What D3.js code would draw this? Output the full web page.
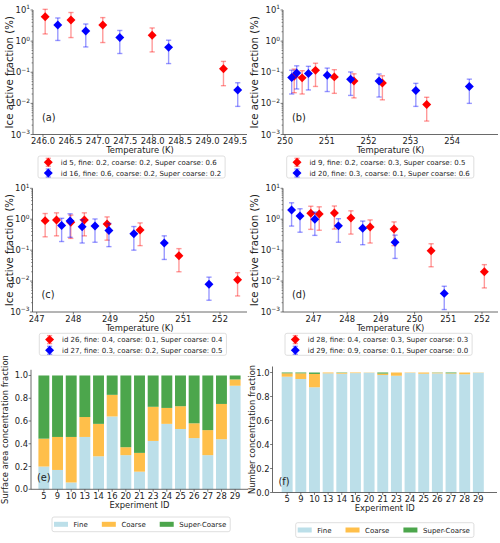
<!DOCTYPE html>
<html><head><meta charset="utf-8">
<script src="https://cdn.jsdelivr.net/npm/d3@7"></script>
<style>body{margin:0;background:#fff} text{font-family:"DejaVu Sans",sans-serif;fill:#222}</style>
</head><body><svg id="c" width="500" height="543"></svg>
<script>
// ---------------- DATA ----------------
// Panel (a)
const aRedLabel = "id 5, fine: 0.2, coarse: 0.2, Super coarse: 0.6";
const aBlueLabel = "id 16, fine: 0.6, coarse: 0.2, Super coarse: 0.2";
const aRedT = [246.04, 246.51, 247.09, 247.99, 249.29];
const aRedV = [6.1, 4.8, 3.3, 1.55, 0.13];
const aRedE = [4.4, 3.5, 2.4, 1.1, 0.093];
const aBlueT = [246.27, 246.78, 247.40, 248.29, 249.55];
const aBlueV = [3.3, 2.1, 1.3, 0.63, 0.027];
const aBlueE = [2.25, 1.45, 0.9, 0.44, 0.019];
const aXTicks = [246.0, 246.5, 247.0, 247.5, 248.0, 248.5, 249.0, 249.5];

// Panel (b)
const bRedLabel = "id 9, fine: 0.2, coarse: 0.3, Super coarse: 0.5";
const bBlueLabel = "id 20, fine: 0.3, coarse: 0.1, Super coarse: 0.6";
const bRedT = [250.22, 250.41, 250.73, 251.18, 251.65, 252.33, 253.39];
const bRedV = [0.074, 0.066, 0.115, 0.071, 0.052, 0.045, 0.0092];
const bRedE = [0.052, 0.046, 0.08, 0.05, 0.037, 0.032, 0.0065];
const bBlueT = [250.16, 250.28, 250.56, 251.01, 251.57, 252.25, 253.13, 254.41];
const bBlueV = [0.068, 0.095, 0.091, 0.080, 0.060, 0.052, 0.026, 0.035];
const bBlueE = [0.048, 0.066, 0.064, 0.056, 0.042, 0.036, 0.018, 0.025];
const bXTicks = [250, 251, 252, 253, 254];

// Panel (c)
const cRedLabel = "id 26, fine: 0.4, coarse: 0.1, Super coarse: 0.4";
const cBlueLabel = "id 27, fine: 0.3, coarse: 0.2, Super coarse: 0.5";
const cRedT = [247.23, 247.54, 247.93, 248.30, 248.92, 249.82, 250.88, 252.48];
const cRedV = [0.90, 0.95, 0.80, 0.95, 0.70, 0.45, 0.066, 0.011];
const cRedE = [0.63, 0.66, 0.56, 0.66, 0.49, 0.31, 0.046, 0.0077];
const cBlueT = [247.68, 247.91, 248.24, 248.59, 248.97, 249.65, 250.48, 251.70];
const cBlueV = [0.63, 0.88, 0.57, 0.60, 0.43, 0.34, 0.17, 0.0079];
const cBlueE = [0.44, 0.62, 0.40, 0.42, 0.30, 0.24, 0.12, 0.0055];
const cXTicks = [247, 248, 249, 250, 251, 252];

// Panel (d)
const dRedLabel = "id 28, fine: 0.4, coarse: 0.3, Super coarse: 0.3";
const dBlueLabel = "id 29, fine: 0.9, coarse: 0.1, Super coarse: 0.0";
const dRedT = [246.92, 247.17, 247.62, 248.11, 248.68, 249.39, 250.49, 252.07];
const dRedV = [1.55, 1.48, 1.58, 1.1, 0.56, 0.48, 0.095, 0.02];
const dRedE = [1.08, 1.04, 1.1, 0.77, 0.39, 0.34, 0.066, 0.014];
const dBlueT = [246.35, 246.60, 247.04, 247.74, 248.46, 249.42, 250.88];
const dBlueV = [2.0, 1.28, 1.0, 0.61, 0.51, 0.18, 0.004];
const dBlueE = [1.4, 0.9, 0.7, 0.43, 0.36, 0.126, 0.0028];
const dXTicks = [247, 248, 249, 250, 251, 252];

const logYTicks = [1e-3, 1e-2, 1e-1, 1, 10];

// Panels (e), (f)
const experimentIds = ["5","9","10","13","14","16","20","21","23","24","25","26","27","28","29"];
const sizeClasses = ["Fine", "Coarse", "Super-Coarse"];
const saFine   = [0.20, 0.17, 0.06, 0.46, 0.29, 0.64, 0.30, 0.155, 0.425, 0.575, 0.53, 0.45, 0.30, 0.44, 0.91];
const saCoarse = [0.245, 0.29, 0.40, 0.175, 0.285, 0.19, 0.07, 0.165, 0.30, 0.14, 0.20, 0.13, 0.22, 0.31, 0.055];
const saSuper  = [0.555, 0.54, 0.54, 0.365, 0.425, 0.17, 0.63, 0.68, 0.275, 0.285, 0.27, 0.42, 0.48, 0.25, 0.035];
const ncFine   = [0.965, 0.946, 0.877, 0.993, 0.990, 0.995, 0.998, 0.979, 0.973, 0.997, 0.990, 0.993, 0.990, 0.985, 0.998];
const ncCoarse = [0.028, 0.047, 0.111, 0.007, 0.007, 0.005, 0.002, 0.012, 0.027, 0.003, 0.010, 0.005, 0.004, 0.015, 0.002];
const ncSuper  = [0.007, 0.007, 0.012, 0.000, 0.003, 0.000, 0.000, 0.009, 0.000, 0.000, 0.000, 0.002, 0.006, 0.000, 0.000];
const barYTicks = [0, 0.2, 0.4, 0.6, 0.8, 1.0];

// ---------------- STYLE ----------------
const RED = "#ff0000", BLUE = "#0000ff";
const classColors = ["#bcdfe9", "#ffbf4a", "#4ca64c"];
const AXIS = "#444";
const TICK_FS = 8.4, LABEL_FS = 8.4, YLABEL_FS = 10.2, LEG_FS = 7, PANEL_FS = 9.8;

const svg = d3.select("#c");

function diamond(g, cx, cy, color) {
  g.append("path")
    .attr("d", d3.symbol(d3.symbolSquare, 40)())
    .attr("transform", `translate(${cx},${cy}) rotate(45)`)
    .attr("fill", color);
}

function logTickText(g, x, y, v) {
  const e = Math.round(Math.log10(v));
  const t = g.append("text").attr("x", x).attr("y", y).attr("text-anchor", "end")
    .attr("font-size", TICK_FS);
  t.append("tspan").text("10");
  t.append("tspan").attr("dy", -3.6).attr("font-size", TICK_FS * 0.7)
    .text(e < 0 ? "\u2212" + Math.abs(e) : String(e));
}

function scatterPanel(o) {
  const g = svg.append("g");
  const x = d3.scaleLinear().domain(o.xDomain).range([o.left, o.right]);
  const y = d3.scaleLog().domain([1e-3, 10]).range([o.bottom, o.top]);

  g.append("line").attr("x1", o.left).attr("x2", o.left).attr("y1", o.top).attr("y2", o.bottom)
    .attr("stroke", AXIS).attr("stroke-width", 0.8);
  g.append("line").attr("x1", o.left).attr("x2", o.right).attr("y1", o.bottom).attr("y2", o.bottom)
    .attr("stroke", AXIS).attr("stroke-width", 0.8);

  for (let k = -3; k < 1; k++) {
    for (let m = 2; m <= 9; m++) {
      const v = m * Math.pow(10, k);
      g.append("line").attr("x1", o.left - 1.4).attr("x2", o.left)
        .attr("y1", y(v)).attr("y2", y(v)).attr("stroke", AXIS).attr("stroke-width", 0.6);
    }
  }
  logYTicks.forEach(v => {
    g.append("line").attr("x1", o.left - 2.4).attr("x2", o.left)
      .attr("y1", y(v)).attr("y2", y(v)).attr("stroke", AXIS).attr("stroke-width", 0.7);
    logTickText(g, o.left - 3, y(v) + 3, v);
  });
  o.xTicks.forEach(v => {
    g.append("line").attr("x1", x(v)).attr("x2", x(v)).attr("y1", o.bottom).attr("y2", o.bottom + 2.4)
      .attr("stroke", AXIS).attr("stroke-width", 0.7);
    g.append("text").attr("x", x(v)).attr("y", o.bottom + 9.8).attr("text-anchor", "middle")
      .attr("font-size", TICK_FS).text(d3.format(o.xFmt)(v));
  });
  g.append("text").attr("x", (o.left + o.right) / 2).attr("y", o.bottom + 18.8)
    .attr("text-anchor", "middle").attr("font-size", LABEL_FS).text("Temperature (K)");
  g.append("text").attr("transform", `translate(${o.yLabelX},${(o.top + o.bottom) / 2}) rotate(-90)`)
    .attr("text-anchor", "middle").attr("font-size", YLABEL_FS).text("Ice active fraction (%)");
  g.append("text").attr("x", o.left + 9).attr("y", o.bottom - 14)
    .attr("font-size", PANEL_FS).text(o.panel);

  o.series.forEach(s => {
    const sg = g.append("g");
    s.T.forEach((t, i) => {
      const cx = x(t), lo = y(s.V[i] - s.E[i]), hi = y(s.V[i] + s.E[i]);
      const eg = sg.append("g").attr("stroke", s.color).attr("stroke-opacity", 0.4).attr("stroke-width", 1.4);
      eg.append("line").attr("x1", cx).attr("x2", cx).attr("y1", lo).attr("y2", hi);
      eg.append("line").attr("x1", cx - 2.6).attr("x2", cx + 2.6).attr("y1", lo).attr("y2", lo);
      eg.append("line").attr("x1", cx - 2.6).attr("x2", cx + 2.6).attr("y1", hi).attr("y2", hi);
      diamond(sg, cx, y(s.V[i]), s.color);
    });
  });

  const lg = svg.append("g");
  const box = lg.append("rect").attr("x", o.legX).attr("y", o.legY).attr("height", 22)
    .attr("rx", 2).attr("fill", "#fff").attr("stroke", "#d6d6d6").attr("stroke-width", 0.8);
  let maxW = 0;
  o.series.forEach((s, i) => {
    const cy = o.legY + 6.3 + i * 10.7;
    const mx = o.legX + 10.3;
    const eg = lg.append("g").attr("stroke", s.color).attr("stroke-opacity", 0.4).attr("stroke-width", 1.4);
    eg.append("line").attr("x1", mx).attr("x2", mx).attr("y1", cy - 4).attr("y2", cy + 4);
    eg.append("line").attr("x1", mx - 2.6).attr("x2", mx + 2.6).attr("y1", cy - 4).attr("y2", cy - 4);
    eg.append("line").attr("x1", mx - 2.6).attr("x2", mx + 2.6).attr("y1", cy + 4).attr("y2", cy + 4);
    diamond(lg, mx, cy, s.color);
    const t = lg.append("text").attr("x", o.legX + 22.7).attr("y", cy + 2.5)
      .attr("font-size", LEG_FS).text(s.label);
    maxW = Math.max(maxW, t.node().getComputedTextLength());
  });
  box.attr("width", 22.7 + maxW + 4);
}

scatterPanel({
  left: 33, right: 247, top: 10, bottom: 134.5, xDomain: [245.818, 249.719],
  xTicks: aXTicks, xFmt: ".1f", yLabelX: 12.5, panel: "(a)", legX: 38, legY: 156,
  series: [
    {T: aRedT, V: aRedV, E: aRedE, color: RED, label: aRedLabel},
    {T: aBlueT, V: aBlueV, E: aBlueE, color: BLUE, label: aBlueLabel}]
});
scatterPanel({
  left: 283, right: 498, top: 10, bottom: 134.5, xDomain: [249.952, 255.096],
  xTicks: bXTicks, xFmt: "d", yLabelX: 258, panel: "(b)", legX: 286.7, legY: 156,
  series: [
    {T: bRedT, V: bRedV, E: bRedE, color: RED, label: bRedLabel},
    {T: bBlueT, V: bBlueV, E: bBlueE, color: BLUE, label: bBlueLabel}]
});
scatterPanel({
  left: 32.5, right: 247, top: 188.3, bottom: 312, xDomain: [246.885, 252.737],
  xTicks: cXTicks, xFmt: "d", yLabelX: 12.5, panel: "(c)", legX: 39.3, legY: 333.3,
  series: [
    {T: cRedT, V: cRedV, E: cRedE, color: RED, label: cRedLabel},
    {T: cBlueT, V: cBlueV, E: cBlueE, color: BLUE, label: cBlueLabel}]
});
scatterPanel({
  left: 283, right: 498, top: 188.3, bottom: 312, xDomain: [246.095, 252.475],
  xTicks: dXTicks, xFmt: "d", yLabelX: 258, panel: "(d)", legX: 285, legY: 333.3,
  series: [
    {T: dRedT, V: dRedV, E: dRedE, color: RED, label: dRedLabel},
    {T: dBlueT, V: dBlueV, E: dBlueE, color: BLUE, label: dBlueLabel}]
});

// ---------------- BAR PANELS ----------------
function barPanel(o) {
  const g = svg.append("g");
  const x = d3.scaleBand().domain(experimentIds).range([o.left, o.bandRight])
    .paddingInner(0.2).paddingOuter(o.pad);
  const y = d3.scaleLinear().domain([0, 1.05]).range([o.bottom, o.top]);
  const rows = experimentIds.map((id, i) => ({id, Fine: o.fine[i], Coarse: o.coarse[i], "Super-Coarse": o.sup[i]}));
  const stacked = d3.stack().keys(sizeClasses)(rows);
  stacked.forEach((layer, li) => {
    g.append("g").selectAll("rect").data(layer).join("rect")
      .attr("x", d => x(d.data.id)).attr("width", x.bandwidth())
      .attr("y", d => y(d[1])).attr("height", d => Math.max(0, y(d[0]) - y(d[1])))
      .attr("fill", classColors[li]);
  });
  g.append("line").attr("x1", o.left).attr("x2", o.left).attr("y1", o.top).attr("y2", o.bottom)
    .attr("stroke", AXIS).attr("stroke-width", 0.8);
  g.append("line").attr("x1", o.left).attr("x2", o.right).attr("y1", o.bottom).attr("y2", o.bottom)
    .attr("stroke", AXIS).attr("stroke-width", 0.8);
  barYTicks.forEach(v => {
    g.append("line").attr("x1", o.left - 2.4).attr("x2", o.left).attr("y1", y(v)).attr("y2", y(v))
      .attr("stroke", AXIS).attr("stroke-width", 0.7);
    g.append("text").attr("x", o.left - 3).attr("y", y(v) + 3).attr("text-anchor", "end")
      .attr("font-size", TICK_FS).text(d3.format(".1f")(v));
  });
  experimentIds.forEach(id => {
    const cx = x(id) + x.bandwidth() / 2;
    g.append("line").attr("x1", cx).attr("x2", cx).attr("y1", o.bottom).attr("y2", o.bottom + 2.4)
      .attr("stroke", AXIS).attr("stroke-width", 0.7);
    g.append("text").attr("x", cx).attr("y", o.bottom + 9.5).attr("text-anchor", "middle")
      .attr("font-size", TICK_FS).text(id);
  });
  g.append("text").attr("x", (o.left + o.right) / 2).attr("y", o.bottom + 18.5)
    .attr("text-anchor", "middle").attr("font-size", LABEL_FS).text("Experiment ID");
  g.append("text").attr("transform", `translate(${o.yLabelX},${(o.top + o.bottom) / 2}) rotate(-90)`)
    .attr("text-anchor", "middle").attr("font-size", LABEL_FS).text(o.yLabel);
  g.append("text").attr("x", o.left + 6).attr("y", o.bottom - 8)
    .attr("font-size", PANEL_FS).text(o.panel);

  const lg = svg.append("g");
  const box = lg.append("rect").attr("x", o.legX).attr("y", o.legY).attr("height", 14.7)
    .attr("rx", 2).attr("fill", "#fff").attr("stroke", "#d6d6d6").attr("stroke-width", 0.8);
  let cx = o.legX + 2;
  sizeClasses.forEach((c, i) => {
    lg.append("rect").attr("x", cx).attr("y", o.legY + 4.8).attr("width", 14).attr("height", 5)
      .attr("fill", classColors[i]);
    const t = lg.append("text").attr("x", cx + 19.6).attr("y", o.legY + 9.8)
      .attr("font-size", LEG_FS).text(c);
    cx += 19.6 + t.node().getComputedTextLength() + 14;
  });
  box.attr("width", cx - 14 + 4 - o.legX);
}

barPanel({
  left: 31, right: 248, bandRight: 248, pad: 0.543, top: 369.8, bottom: 489.3,
  fine: saFine, coarse: saCoarse, sup: saSuper, yLabel: "Surface area concentration fraction",
  yLabelX: 8, panel: "(e)", legX: 52, legY: 517
});
barPanel({
  left: 272.5, right: 497, bandRight: 493, pad: 0.673, top: 366.5, bottom: 492.5,
  fine: ncFine, coarse: ncCoarse, sup: ncSuper, yLabel: "Number concentration fraction",
  yLabelX: 254.5, panel: "(f)", legX: 295.7, legY: 522.7
});
</script>
</body></html>
